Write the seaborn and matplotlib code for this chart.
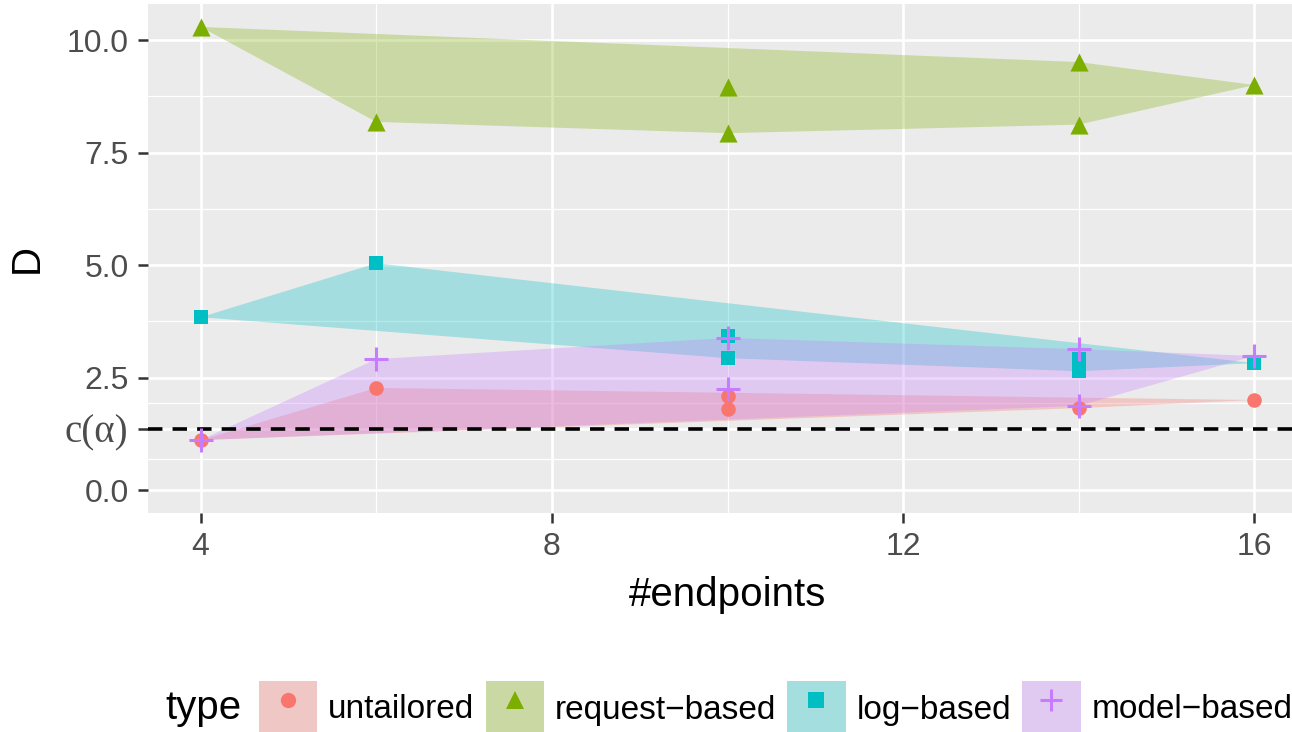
import numpy as np
import pandas as pd
import seaborn as sns
import matplotlib.pyplot as plt
from matplotlib.patches import Patch
from matplotlib.lines import Line2D
from matplotlib.ticker import FixedLocator
import matplotlib.colors as mcolors


# values
types = ["untailored", "request\u2212based", "log\u2212based", "model\u2212based"]

untailored_x = [4, 6, 10, 10, 14, 16]
untailored_y = [1.11, 2.27, 2.09, 1.80, 1.82, 2.00]

request_x = [4, 6, 10, 10, 14, 14, 16]
request_y = [10.29, 8.18, 8.96, 7.93, 9.51, 8.12, 9.00]

log_x = [4, 6, 10, 10, 14, 14, 16]
log_y = [3.84, 5.04, 3.42, 2.93, 2.91, 2.64, 2.82]

model_x = [4, 6, 10, 10, 14, 14, 16]
model_y = [1.11, 2.91, 3.38, 2.24, 3.13, 1.87, 2.98]

c_alpha = 1.36

x_ticks = [4, 8, 12, 16]
y_ticks = [0, c_alpha, 2.5, 5, 7.5, 10]
y_ticklabels = ["0.0", "c(\u03b1)", "2.5", "5.0", "7.5", "10.0"]

colors = ["#F8766D", "#7CAE00", "#00BFC4", "#C77CFF"]
markers = ["o", "^", "s", "+"]
sizes = [110, 170, 110, 300]


df = pd.concat([
    pd.DataFrame({"endpoints": untailored_x, "D": untailored_y, "type": types[0]}),
    pd.DataFrame({"endpoints": request_x, "D": request_y, "type": types[1]}),
    pd.DataFrame({"endpoints": log_x, "D": log_y, "type": types[2]}),
    pd.DataFrame({"endpoints": model_x, "D": model_y, "type": types[3]}),
], ignore_index=True)


def hull(points):
    """
    Convex hull (monotone chain)
    """
    pts = sorted(set(points))
    if len(pts) < 3:
        return pts

    def cross(o, a, b):
        return (a[0] - o[0]) * (b[1] - o[1]) - (a[1] - o[1]) * (b[0] - o[0])

    lower = []
    for p in pts:
        while len(lower) >= 2 and cross(lower[-2], lower[-1], p) <= 0:
            lower.pop()
        lower.append(p)
    upper = []
    for p in reversed(pts):
        while len(upper) >= 2 and cross(upper[-2], upper[-1], p) <= 0:
            upper.pop()
        upper.append(p)
    return lower[:-1] + upper[:-1]


sns.set_theme(style="darkgrid")
plt.rcParams["font.family"] = ["Liberation Sans", "DejaVu Sans"]

panel_bg = "#EBEBEB"
fill_alpha = 0.3

fig = plt.figure(figsize=(12.92, 7.32), dpi=100)
ax = fig.add_axes([148 / 1292, (732 - 513) / 732, (1307 - 148) / 1292, (513 - 4) / 732])
ax.set_facecolor(panel_bg)

# hull polygons
for t, c in zip(types, colors):
    sub = df[df["type"] == t]
    h = hull(list(zip(sub["endpoints"], sub["D"])))
    hx = [p[0] for p in h]
    hy = [p[1] for p in h]
    ax.fill(hx, hy, color=c, alpha=fill_alpha, linewidth=0, zorder=2)

# critical value
ax.axhline(c_alpha, color="black", lw=2.6, ls=(0, (4.0, 2.8)), zorder=3)

# points
for t, c, m, s in zip(types, colors, markers, sizes):
    sub = df[df["type"] == t]
    if m == "+":
        sns.scatterplot(data=sub, x="endpoints", y="D", color=c, marker=m,
                        s=s, linewidth=2.2, ax=ax, zorder=4, legend=False)
    else:
        sns.scatterplot(data=sub, x="endpoints", y="D", color=c, marker=m,
                        s=s, linewidth=0, ax=ax, zorder=4, legend=False)

ax.set_xlim(3.4, 16.6)
ax.set_ylim(-0.51, 10.8)

ax.set_xticks(x_ticks)
ax.set_xticklabels([str(v) for v in x_ticks])
ax.set_yticks(y_ticks)
ax.set_yticklabels(y_ticklabels)

x_minor = [6, 10, 14]
y_minor = [(a + b) / 2 for a, b in zip(y_ticks[:-1], y_ticks[1:])]
ax.xaxis.set_minor_locator(FixedLocator(x_minor))
ax.yaxis.set_minor_locator(FixedLocator(y_minor))

ax.grid(which="major", color="white", lw=1.9)
ax.grid(which="minor", color="white", lw=0.9)
ax.set_axisbelow(True)
for sp in ax.spines.values():
    sp.set_visible(False)

ax.tick_params(which="major", direction="out", length=7, width=1.8,
               color="#333333", labelsize=23, labelcolor="#4D4D4D", pad=7,
               bottom=True, left=True)
ax.tick_params(which="minor", length=0)
for lab in ax.get_yticklabels():
    if "\u03b1" in lab.get_text():
        lab.set_fontsize(28)
        lab.set_fontfamily(["Liberation Serif", "DejaVu Serif"])

ax.set_xlabel("#endpoints", fontsize=29, color="black", labelpad=10)
ax.set_ylabel("D", fontsize=29, color="black", labelpad=14)

# legend
def blend(c):
    r = np.array(mcolors.to_rgb(c))
    b = np.array(mcolors.to_rgb(panel_bg))
    return tuple(fill_alpha * r + (1 - fill_alpha) * b)

handles = []
for c, m in zip(colors, markers):
    key = Patch(facecolor=blend(c), edgecolor="none")
    if m == "+":
        mk = Line2D([], [], marker=m, color=c, ls="none", markersize=16, mew=2.2)
    else:
        mk = Line2D([], [], marker=m, color=c, ls="none",
                    markersize=11 if m != "^" else 13, mew=0)
    handles.append((key, mk))

fig.legend(handles, types, loc="center left", bbox_to_anchor=(259 / 1292, 1 - 708 / 732),
           ncol=4, frameon=False, fontsize=24, handlelength=1.75, handleheight=2.1,
           handletextpad=0.33, columnspacing=0.33, borderpad=0, borderaxespad=0,
           labelcolor="black")
fig.text(165 / 1292, 1 - 708 / 732, "type", fontsize=29, va="center", ha="left",
         color="black")

fig.savefig("out.png", dpi=100)
